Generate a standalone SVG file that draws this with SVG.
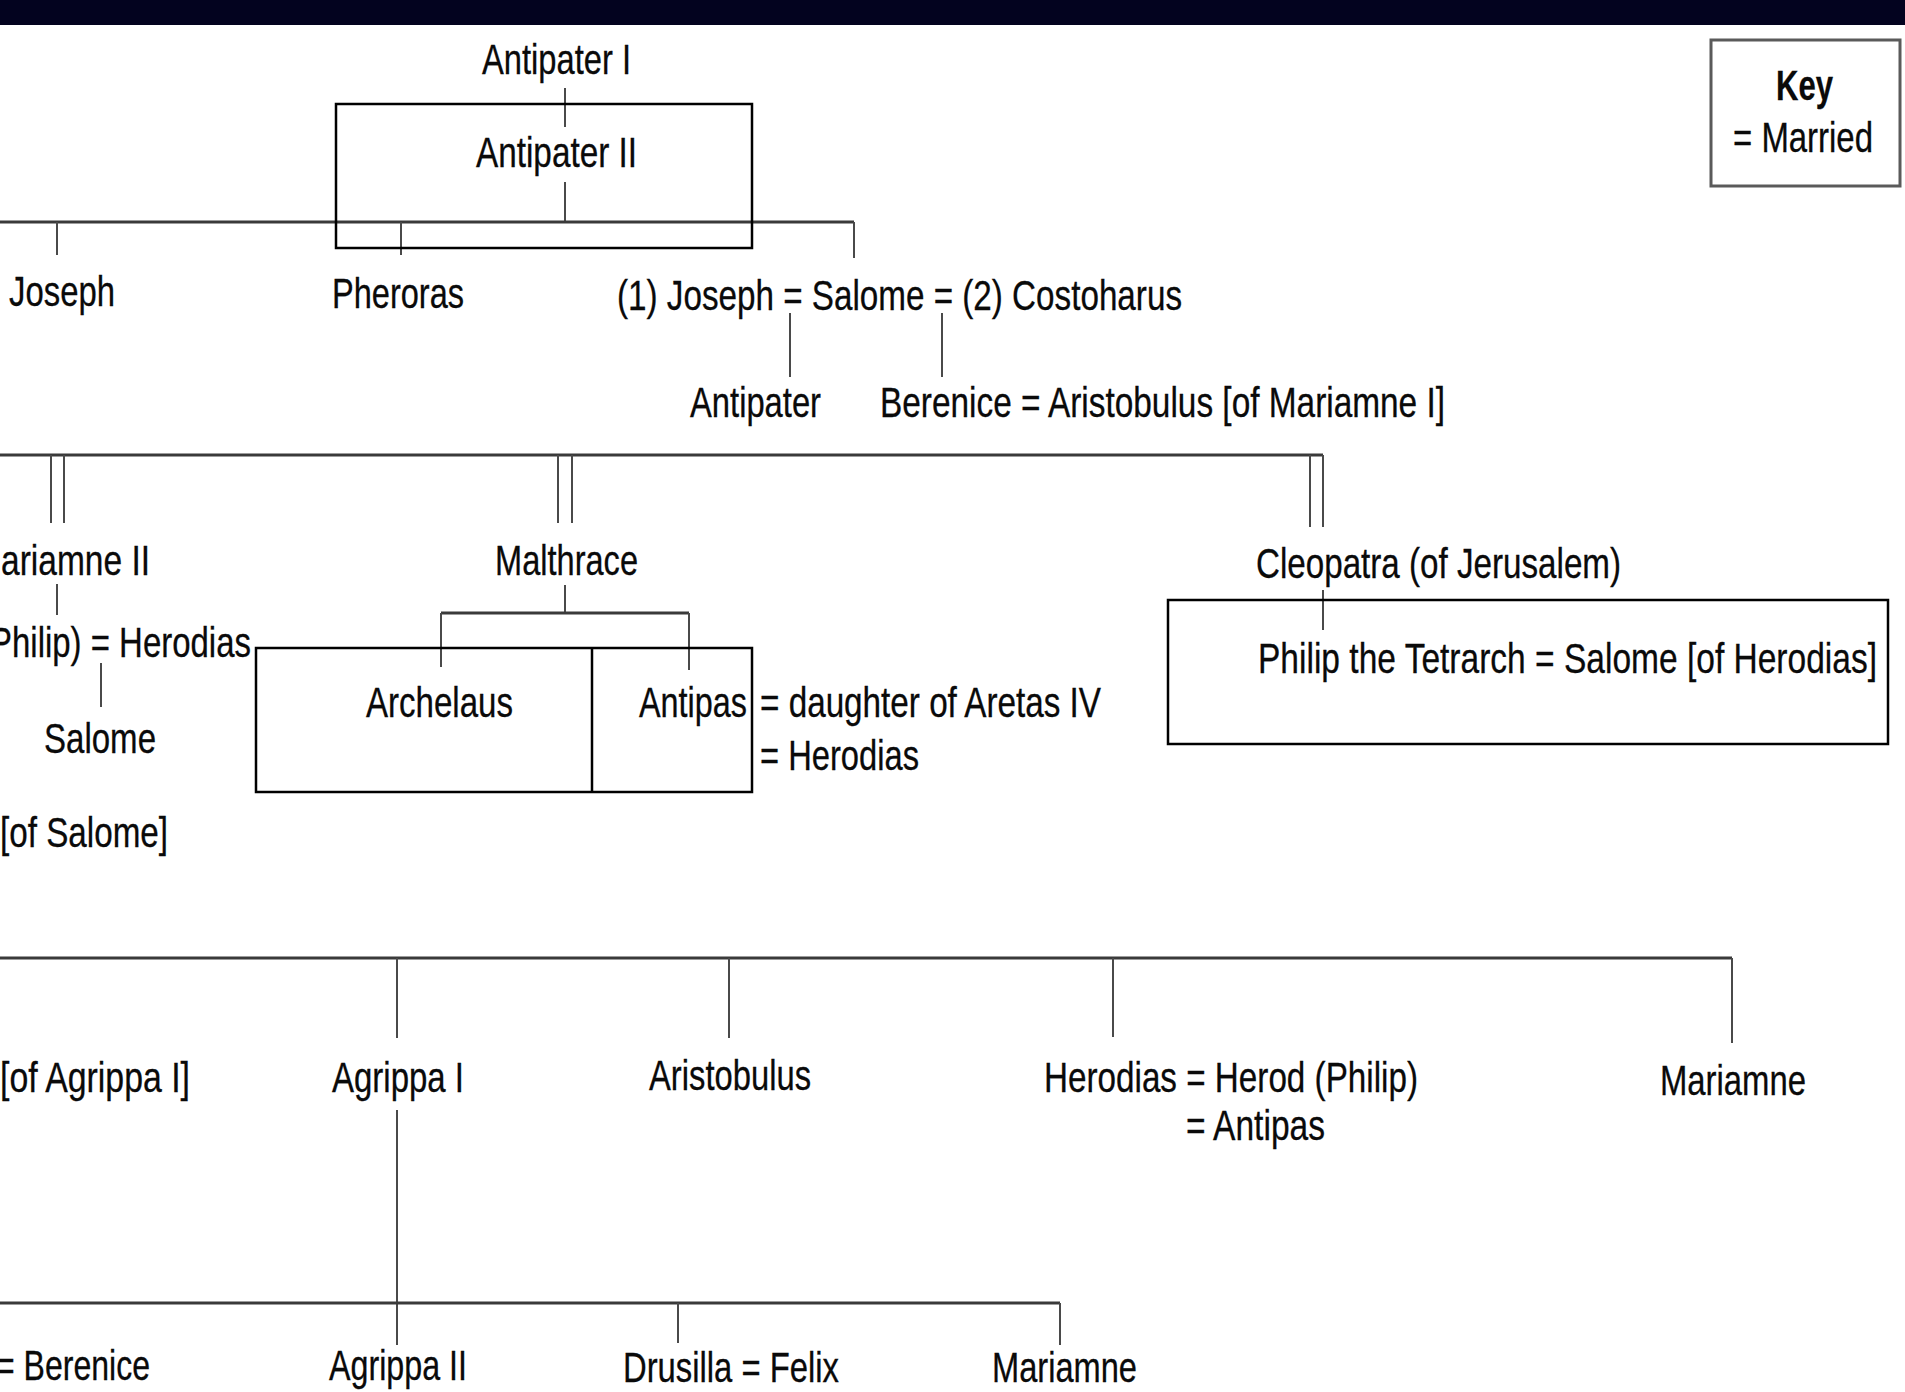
<svg xmlns="http://www.w3.org/2000/svg" width="1905" height="1392" viewBox="0 0 1905 1392">
<style>
text{font-family:"Liberation Sans Narrow","Liberation Sans",Arial,sans-serif;font-size:42px;fill:#0a0a0a;stroke:#0a0a0a;stroke-width:0.3}
.b{font-weight:bold}
.h{stroke:#3a3a3a;stroke-width:3.2;fill:none}
.v{stroke:#4a4a4a;stroke-width:2;fill:none}
.box{fill:none;stroke:#000;stroke-width:2.5}
.key{fill:none;stroke:#5a5a5a;stroke-width:3}
</style>
<rect x="0" y="0" width="1905" height="1392" fill="#fff"/>
<rect x="0" y="0" width="1905" height="25" fill="#03031f"/>

<g id="connectors">
<path class="v" d="M565 88V127M565 182V222"/>
<path class="h" d="M0 222H854"/>
<path class="v" d="M854 222V258M57 222V255M401 222V255"/>
<path class="v" d="M790 313V377M942 313V377"/>
<path class="h" d="M0 455H1323"/>
<path class="v" d="M51 455V523M64 455V523M558 455V523M572 455V523M1310 455V527M1323 455V527"/>
<path class="v" d="M57 584V615M101 663V707M565 585V613"/>
<path class="h" d="M441 613H689"/>
<path class="v" d="M441 613V667M689 613V670M1323 590V630"/>
<path class="h" d="M0 958H1732"/>
<path class="v" d="M397 958V1038M729 958V1038M1113 958V1037M1732 958V1043M397 1110V1345"/>
<path class="h" d="M0 1303H1060"/>
<path class="v" d="M678 1303V1343M1060 1303V1345"/>
</g>

<g id="boxes">
<rect id="box-antipater2" class="box" x="336" y="104" width="416" height="144"/>
<g id="box-archelaus-antipas">
<rect class="box" x="256" y="648" width="496" height="144"/>
<line class="box" x1="592" y1="648" x2="592" y2="792"/>
</g>
<rect id="box-philip" class="box" x="1168" y="600" width="720" height="144"/>
</g>

<g id="key">
<rect class="key" x="1711" y="40" width="189" height="146"/>
<text class="b" x="1776" y="100" textLength="57" lengthAdjust="spacingAndGlyphs">Key</text>
<text x="1733" y="152" textLength="140" lengthAdjust="spacingAndGlyphs">= Married</text>
</g>

<g id="n-antipater1"><text x="482" y="74" textLength="149" lengthAdjust="spacingAndGlyphs">Antipater I</text></g>
<g id="n-antipater2"><text x="476" y="167" textLength="161" lengthAdjust="spacingAndGlyphs">Antipater II</text></g>
<g id="n-joseph"><text x="9" y="306" textLength="106" lengthAdjust="spacingAndGlyphs">Joseph</text></g>
<g id="n-pheroras"><text x="332" y="308" textLength="132" lengthAdjust="spacingAndGlyphs">Pheroras</text></g>
<g id="n-salome"><text x="617" y="310" textLength="565" lengthAdjust="spacingAndGlyphs">(1) Joseph = Salome = (2) Costoharus</text></g>
<g id="n-antipater"><text x="690" y="417" textLength="131" lengthAdjust="spacingAndGlyphs">Antipater</text></g>
<g id="n-berenice"><text x="880" y="417" textLength="565" lengthAdjust="spacingAndGlyphs">Berenice = Aristobulus [of Mariamne I]</text></g>
<g id="n-mariamne2"><text x="1" y="575" textLength="149" lengthAdjust="spacingAndGlyphs">ariamne II</text></g>
<g id="n-herod-philip"><text x="-10" y="657" textLength="261" lengthAdjust="spacingAndGlyphs">Philip) = Herodias</text></g>
<g id="n-salome2"><text x="44" y="753" textLength="112" lengthAdjust="spacingAndGlyphs">Salome</text></g>
<g id="n-of-salome"><text x="0" y="847" textLength="168" lengthAdjust="spacingAndGlyphs">[of Salome]</text></g>
<g id="n-malthrace"><text x="495" y="575" textLength="143" lengthAdjust="spacingAndGlyphs">Malthrace</text></g>
<g id="n-archelaus"><text x="366" y="717" textLength="147" lengthAdjust="spacingAndGlyphs">Archelaus</text></g>
<g id="n-antipas"><text x="639" y="717" textLength="108" lengthAdjust="spacingAndGlyphs">Antipas</text></g>
<g id="n-antipas-wives">
<text x="760" y="717" textLength="341" lengthAdjust="spacingAndGlyphs">= daughter of Aretas IV</text>
<text x="760" y="770" textLength="159" lengthAdjust="spacingAndGlyphs">= Herodias</text>
</g>
<g id="n-cleopatra"><text x="1256" y="578" textLength="365" lengthAdjust="spacingAndGlyphs">Cleopatra (of Jerusalem)</text></g>
<g id="n-philip-tetrarch"><text x="1258" y="673" textLength="619" lengthAdjust="spacingAndGlyphs">Philip the Tetrarch = Salome [of Herodias]</text></g>
<g id="n-of-agrippa"><text x="0" y="1092" textLength="190" lengthAdjust="spacingAndGlyphs">[of Agrippa I]</text></g>
<g id="n-agrippa1"><text x="332" y="1092" textLength="132" lengthAdjust="spacingAndGlyphs">Agrippa I</text></g>
<g id="n-aristobulus"><text x="649" y="1090" textLength="162" lengthAdjust="spacingAndGlyphs">Aristobulus</text></g>
<g id="n-herodias">
<text x="1044" y="1092" textLength="374" lengthAdjust="spacingAndGlyphs">Herodias = Herod (Philip)</text>
<text x="1186" y="1140" textLength="139" lengthAdjust="spacingAndGlyphs">= Antipas</text>
</g>
<g id="n-mariamne"><text x="1660" y="1095" textLength="146" lengthAdjust="spacingAndGlyphs">Mariamne</text></g>
<g id="n-berenice2"><text x="-4" y="1380" textLength="154" lengthAdjust="spacingAndGlyphs">= Berenice</text></g>
<g id="n-agrippa2"><text x="329" y="1380" textLength="138" lengthAdjust="spacingAndGlyphs">Agrippa II</text></g>
<g id="n-drusilla"><text x="623" y="1382" textLength="216" lengthAdjust="spacingAndGlyphs">Drusilla = Felix</text></g>
<g id="n-mariamne3"><text x="992" y="1382" textLength="145" lengthAdjust="spacingAndGlyphs">Mariamne</text></g>
</svg>
